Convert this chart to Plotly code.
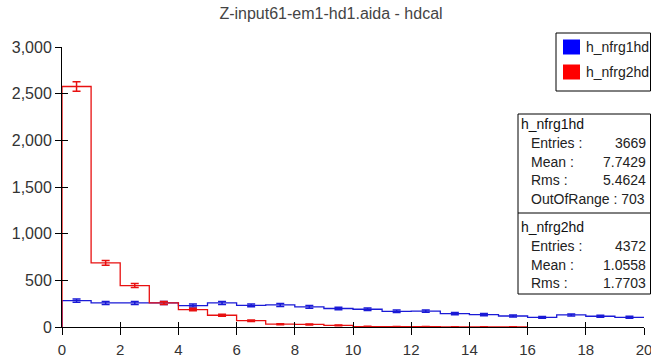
import numpy as np
import plotly.graph_objects as go

# ---- data ----
bin_low = 0
bin_width = 1
blue_counts = [283, 258, 258, 258, 230, 258, 232, 236, 215, 198,
               190, 168, 170, 143, 133, 118, 103, 129, 115, 104]
red_counts = [2577, 687, 444, 258, 187, 126, 68, 30, 28, 18,
              5, 4, 3, 2, 2, 1]
series_names = ["h_nfrg1hd", "h_nfrg2hd"]
series_colors = ["#1a1ad6", "#e81010"]
swatch_colors = ["#0000ff", "#ff0000"]
x_ticks = list(range(0, 21, 2))
y_ticks = [0, 500, 1000, 1500, 2000, 2500, 3000]
title_text = "Z-input61-em1-hd1.aida - hdcal"
stats = [
    ("h_nfrg1hd", [("Entries :", "3669"), ("Mean :", "7.7429"),
                   ("Rms :", "5.4624"), ("OutOfRange : 703", "")]),
    ("h_nfrg2hd", [("Entries :", "4372"), ("Mean :", "1.0558"),
                   ("Rms :", "1.7703")]),
]

FONT = "Liberation Sans, Arial, sans-serif"
W, H = 651, 359
ML, MR, MT, MB = 62, 7, 47, 32
PW = W - ML - MR
PH = H - MT - MB


def px(xp):
    return (xp - ML) / PW


def py(yp):
    return (H - MB - yp) / PH


fig = go.Figure()


def add_hist(counts, color, name):
    counts = np.asarray(counts, dtype=float)
    n = len(counts)
    edges = bin_low + bin_width * np.arange(n + 1)
    centers = edges[:-1] + bin_width / 2
    xs = np.concatenate([[edges[0]], edges])
    ys = np.concatenate([[0.0], counts, [counts[-1]]])
    fig.add_trace(go.Scatter(x=xs, y=ys, mode="lines", line_shape="hv",
                             line=dict(color=color, width=1.3),
                             name=name, showlegend=False, hoverinfo="skip"))
    fig.add_trace(go.Scatter(x=centers, y=counts, mode="markers",
                             marker=dict(size=1, color=color),
                             error_y=dict(type="data", array=np.sqrt(counts),
                                          color=color, thickness=1.5, width=4),
                             name=name, showlegend=False))


add_hist(blue_counts, series_colors[0], series_names[0])
add_hist(red_counts, series_colors[1], series_names[1])

# dummy trace for the overlay axes (inside half of crossing ticks)
fig.add_trace(go.Scatter(x=[None], y=[None], xaxis="x2", yaxis="y2",
                         showlegend=False, hoverinfo="skip"))

tickfont = dict(family=FONT, size=15, color="#333333")
fig.update_layout(
    width=W, height=H,
    margin=dict(l=ML, r=MR, t=MT, b=MB, autoexpand=False),
    paper_bgcolor="white", plot_bgcolor="white",
    showlegend=False,
    title=dict(text=title_text, x=331 / W, xanchor="center",
               y=1 - 13 / H, yanchor="middle",
               font=dict(family=FONT, size=16, color="#444444")),
    xaxis=dict(range=[0, 20], tickvals=x_ticks, ticks="outside", ticklen=7,
               tickcolor="black", showline=True, linecolor="black",
               linewidth=1, showgrid=False, zeroline=False,
               tickfont=tickfont, ticklabelstandoff=2,
               ticklabeloverflow="allow", automargin=False),
    yaxis=dict(range=[0, 3000], tickvals=y_ticks, tickformat=",d",
               ticks="outside", ticklen=6, tickcolor="black",
               showline=True, linecolor="black", linewidth=1,
               showgrid=False, zeroline=False, automargin=False,
               tickfont=dict(family=FONT, size=16, color="#333333")),
    xaxis2=dict(range=[0, 20], tickvals=x_ticks, ticks="inside", ticklen=5,
                tickcolor="black", overlaying="x", anchor="y",
                showticklabels=False, showline=False, showgrid=False,
                zeroline=False),
    yaxis2=dict(range=[0, 3000], tickvals=y_ticks, ticks="inside",
                ticklen=6, tickcolor="black", overlaying="y", anchor="x",
                side="left", showticklabels=False, showline=False,
                showgrid=False, zeroline=False),
)

shapes = []
annotations = []

# ---- legend box ----
shapes.append(dict(type="rect", xref="paper", yref="paper",
                   x0=px(556), x1=px(650.5), y0=py(91), y1=py(33),
                   line=dict(color="black", width=1), fillcolor="white"))
leg_rows = [47, 72]
for name, col, yc in zip(series_names, swatch_colors, leg_rows):
    shapes.append(dict(type="rect", xref="paper", yref="paper",
                       x0=px(563), x1=px(580), y0=py(yc + 7.5), y1=py(yc - 7.5),
                       line=dict(width=0), fillcolor=col))
    annotations.append(dict(xref="paper", yref="paper", x=px(584), y=py(yc),
                            text=name, showarrow=False, xanchor="left",
                            yanchor="middle",
                            font=dict(family=FONT, size=14, color="#222222")))

# ---- stats box ----
shapes.append(dict(type="rect", xref="paper", yref="paper",
                   x0=px(518), x1=px(650.5), y0=py(294), y1=py(114),
                   line=dict(color="black", width=1), fillcolor="white"))
shapes.append(dict(type="line", xref="paper", yref="paper",
                   x0=px(518), x1=px(650.5), y0=py(213), y1=py(213),
                   line=dict(color="black", width=1)))
block_tops = [124, 227]
row_step = 18.8
for (hname, rows), ytop in zip(stats, block_tops):
    annotations.append(dict(xref="paper", yref="paper", x=px(519), y=py(ytop),
                            text=hname, showarrow=False, xanchor="left",
                            yanchor="middle",
                            font=dict(family=FONT, size=14, color="#111111")))
    for i, (lab, val) in enumerate(rows):
        yy = ytop + row_step * (i + 1)
        annotations.append(dict(xref="paper", yref="paper", x=px(529), y=py(yy),
                                text=lab, showarrow=False, xanchor="left",
                                yanchor="middle",
                                font=dict(family=FONT, size=14, color="#222222")))
        if val:
            annotations.append(dict(xref="paper", yref="paper", x=px(648),
                                    y=py(yy), text=val, showarrow=False,
                                    xanchor="right", yanchor="middle",
                                    font=dict(family=FONT, size=14,
                                              color="#222222")))

fig.update_layout(shapes=shapes, annotations=annotations)
fig.write_html("out.html")
